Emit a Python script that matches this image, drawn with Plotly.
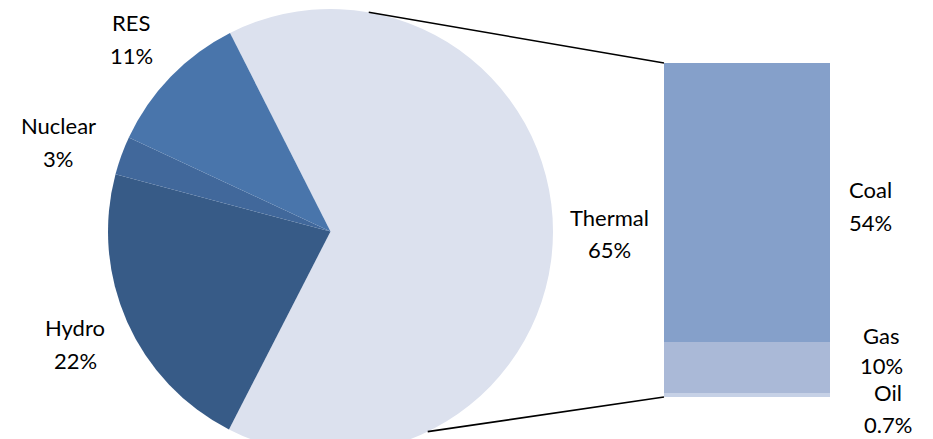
import plotly.graph_objects as go
import math

# ---------------- data ----------------
pie_labels = ["Thermal", "Hydro", "Nuclear", "RES"]
pie_values = [65.0, 21.6, 2.8, 10.6]
pie_colors = ["#DCE1EE", "#375B87", "#41689B", "#4975AB"]

bar_labels = ["Oil", "Gas", "Coal"]          # stacked bottom -> top
bar_values = [0.7, 10.1, 54.2]
bar_colors = ["#C6D1E6", "#AAB9D7", "#85A0CA"]

W, H = 933, 463
FONT = "Lato"

def px(x):
    return x / W

def py(y):
    return 1 - y / H

def pct(v):
    return f"{v:.0f}%" if v >= 1 else f"{v:.1f}%"

# geometry (pixels)
pie_cx, pie_cy, pie_r = 330.5, 231.5, 222.5
bar_x0, bar_x1, bar_top, bar_bot = 664, 830, 63, 397

fig = go.Figure()

fig.add_trace(go.Pie(
    labels=pie_labels, values=pie_values, sort=False,
    direction="clockwise", rotation=-26.85,
    marker=dict(colors=pie_colors, line=dict(width=0)),
    textinfo="none", hoverinfo="label+percent",
    domain=dict(x=[px(pie_cx - pie_r), px(pie_cx + pie_r)], y=[0, 1]),
    showlegend=False,
))

for lab, val, col in zip(bar_labels, bar_values, bar_colors):
    fig.add_trace(go.Bar(
        x=[""], y=[val], name=lab, marker=dict(color=col, line=dict(width=0)),
        xaxis="x2", yaxis="y2", showlegend=False, hoverinfo="name+y",
    ))

total = sum(bar_values)

# connector lines (pie edge -> bar corners)
def pie_point(angle_deg):
    a = math.radians(angle_deg)
    return pie_cx + pie_r * math.sin(a), pie_cy - pie_r * math.cos(a)

tx, ty = pie_point(9.9)
bx, by = pie_point(154.1)
shapes = [
    dict(type="line", xref="paper", yref="paper", x0=px(tx), y0=py(ty),
         x1=px(bar_x0), y1=py(bar_top), line=dict(color="black", width=1.6)),
    dict(type="line", xref="paper", yref="paper", x0=px(bx), y0=py(by),
         x1=px(bar_x0), y1=py(bar_bot), line=dict(color="black", width=1.6)),
]

# label positions (pixel centres of the two lines)
label_pos = {
    "RES": (131, 22.5, 55.5),
    "Nuclear": (58, 125.5, 158.5),
    "Hydro": (75, 327.5, 360.5),
    "Thermal": (609, 217.5, 249.5),
    "Coal": (870, 189.5, 222.5),
    "Gas": (881, 335.5, 365.5),
    "Oil": (888, 392.5, 424.5),
}

values_map = dict(zip(pie_labels, pie_values))
values_map.update(dict(zip(bar_labels, bar_values)))

annotations = []
for name, (x, y1, y2) in label_pos.items():
    for txt, yy in ((name, y1), (pct(values_map[name]), y2)):
        annotations.append(dict(
            x=px(x), y=py(yy), xref="paper", yref="paper", text=txt,
            showarrow=False, xanchor="center", yanchor="middle",
            font=dict(family=FONT, size=22, color="black"),
        ))

fig.update_layout(
    width=W, height=H,
    margin=dict(l=0, r=0, t=0, b=0),
    paper_bgcolor="white", plot_bgcolor="white",
    barmode="stack", bargap=0,
    xaxis2=dict(domain=[px(bar_x0), px(bar_x1)], range=[-0.5, 0.5],
                visible=False, anchor="y2", fixedrange=True),
    yaxis2=dict(domain=[py(bar_bot), py(bar_top)], range=[0, total],
                visible=False, anchor="x2", fixedrange=True),
    xaxis=dict(visible=False), yaxis=dict(visible=False),
    shapes=shapes, annotations=annotations,
    font=dict(family=FONT),
)

fig.write_html("out.html")
